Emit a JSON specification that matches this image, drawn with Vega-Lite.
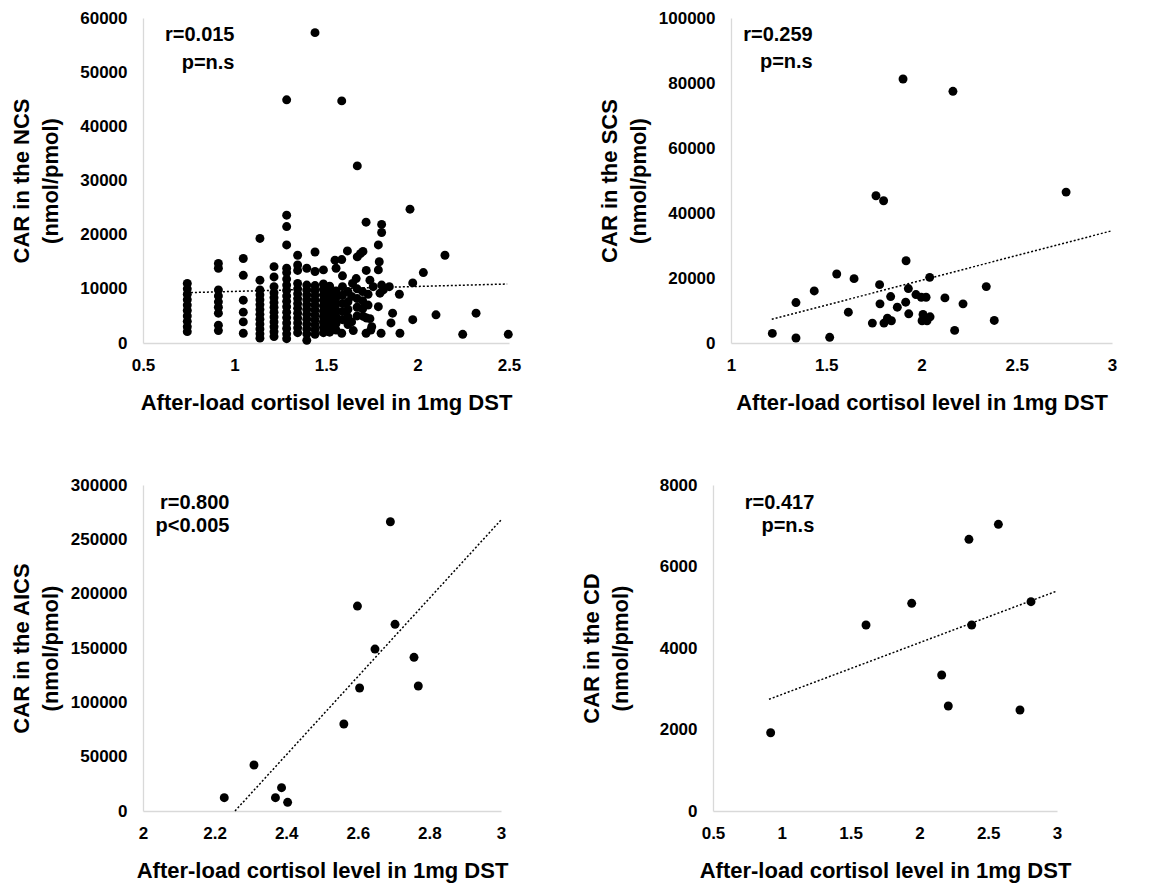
{
  "$schema": "https://vega.github.io/schema/vega-lite/v6.json",
  "padding": {"left": 10, "top": 9, "right": 5, "bottom": 5},
  "background": "white",
  "spacing": 63,
  "datasets": {
    "ncs": [
      {"x":0.742,"y":11000},{"x":0.742,"y":10000},{"x":0.742,"y":9000},{"x":0.742,"y":8000},{"x":0.742,"y":7000},{"x":0.742,"y":6000},{"x":0.742,"y":5000},{"x":0.742,"y":4000},{"x":0.742,"y":3000},{"x":0.742,"y":2100},
      {"x":0.912,"y":14700},{"x":0.912,"y":13800},{"x":0.912,"y":9800},{"x":0.912,"y":8700},{"x":0.912,"y":7600},{"x":0.912,"y":6600},{"x":0.912,"y":5500},{"x":0.912,"y":3300},{"x":0.912,"y":2300},
      {"x":1.048,"y":15600},{"x":1.048,"y":12500},{"x":1.048,"y":7900},{"x":1.048,"y":5700},{"x":1.048,"y":3900},{"x":1.048,"y":1800},
      {"x":1.139,"y":19300},{"x":1.139,"y":11600},{"x":1.139,"y":9800},{"x":1.139,"y":8900},{"x":1.139,"y":8000},{"x":1.139,"y":7100},{"x":1.139,"y":6200},{"x":1.139,"y":5300},{"x":1.139,"y":4400},{"x":1.139,"y":3500},{"x":1.139,"y":2600},{"x":1.139,"y":1700},{"x":1.139,"y":900},
      {"x":1.216,"y":14100},{"x":1.216,"y":12200},{"x":1.216,"y":10400},{"x":1.216,"y":9300},{"x":1.216,"y":8400},{"x":1.216,"y":7500},{"x":1.216,"y":6600},{"x":1.216,"y":5700},{"x":1.216,"y":4800},{"x":1.216,"y":3900},{"x":1.216,"y":3000},{"x":1.216,"y":2100},{"x":1.216,"y":1200},
      {"x":1.285,"y":44900},{"x":1.285,"y":23600},{"x":1.285,"y":21500},{"x":1.285,"y":18100},{"x":1.285,"y":13800},{"x":1.285,"y":13000},{"x":1.285,"y":11800},{"x":1.285,"y":10700},{"x":1.285,"y":9700},{"x":1.285,"y":8700},{"x":1.285,"y":7700},{"x":1.285,"y":6700},{"x":1.285,"y":5700},{"x":1.285,"y":4700},{"x":1.285,"y":3700},{"x":1.285,"y":2700},{"x":1.285,"y":1700},{"x":1.285,"y":800},
      {"x":1.345,"y":16200},{"x":1.345,"y":14400},{"x":1.345,"y":13400},{"x":1.345,"y":11000},{"x":1.345,"y":10000},{"x":1.345,"y":9100},{"x":1.345,"y":8200},{"x":1.345,"y":7300},{"x":1.345,"y":6400},{"x":1.345,"y":5500},{"x":1.345,"y":4600},{"x":1.345,"y":3700},{"x":1.345,"y":2800},{"x":1.345,"y":1900},
      {"x":1.395,"y":13800},{"x":1.395,"y":10700},{"x":1.395,"y":9800},{"x":1.395,"y":8900},{"x":1.395,"y":8000},{"x":1.395,"y":7100},{"x":1.395,"y":6200},{"x":1.395,"y":5300},{"x":1.395,"y":4400},{"x":1.395,"y":3500},{"x":1.395,"y":2600},{"x":1.395,"y":1700},{"x":1.395,"y":500},
      {"x":1.44,"y":57300},{"x":1.44,"y":16800},{"x":1.44,"y":13200},{"x":1.44,"y":10600},{"x":1.44,"y":9700},{"x":1.44,"y":8800},{"x":1.44,"y":7900},{"x":1.44,"y":7000},{"x":1.44,"y":6100},{"x":1.44,"y":5200},{"x":1.44,"y":4300},{"x":1.44,"y":3400},{"x":1.44,"y":2500},{"x":1.44,"y":1600},
      {"x":1.486,"y":13500},{"x":1.486,"y":10900},{"x":1.486,"y":9900},{"x":1.486,"y":8900},{"x":1.486,"y":7900},{"x":1.486,"y":6900},{"x":1.486,"y":5900},{"x":1.486,"y":4900},{"x":1.486,"y":3900},{"x":1.486,"y":2900},{"x":1.486,"y":1900},
      {"x":1.52,"y":10500},{"x":1.52,"y":9200},{"x":1.52,"y":8000},{"x":1.52,"y":6800},{"x":1.52,"y":5600},{"x":1.52,"y":4400},{"x":1.52,"y":3200},{"x":1.52,"y":2700},{"x":1.52,"y":2000},
      {"x":1.555,"y":13800},{"x":1.555,"y":9600},{"x":1.555,"y":8400},{"x":1.555,"y":7200},{"x":1.555,"y":6000},{"x":1.555,"y":4800},{"x":1.555,"y":3600},{"x":1.555,"y":2400},
      {"x":1.549,"y":15300},
      {"x":1.586,"y":44700},{"x":1.586,"y":15400},{"x":1.586,"y":1800},
      {"x":1.59,"y":12400},{"x":1.59,"y":10400},{"x":1.59,"y":8800},{"x":1.59,"y":7300},{"x":1.59,"y":5800},{"x":1.59,"y":4300},
      {"x":1.617,"y":17000},
      {"x":1.62,"y":9500},{"x":1.62,"y":7600},{"x":1.62,"y":6200},{"x":1.62,"y":4800},{"x":1.62,"y":3400},
      {"x":1.64,"y":3900},{"x":1.64,"y":8600},{"x":1.649,"y":2300},{"x":1.645,"y":11000},
      {"x":1.665,"y":11900},{"x":1.671,"y":32700},{"x":1.671,"y":15900},
      {"x":1.67,"y":10000},{"x":1.67,"y":8200},{"x":1.67,"y":6600},{"x":1.67,"y":5000},
      {"x":1.688,"y":16500},{"x":1.702,"y":16900},{"x":1.704,"y":4900},
      {"x":1.7,"y":9500},{"x":1.7,"y":7800},{"x":1.7,"y":6300},
      {"x":1.719,"y":22300},{"x":1.719,"y":1800},{"x":1.72,"y":13400},{"x":1.722,"y":4600},
      {"x":1.73,"y":9000},{"x":1.73,"y":7000},
      {"x":1.74,"y":11600},{"x":1.74,"y":4500},{"x":1.758,"y":10400},{"x":1.75,"y":3000},{"x":1.745,"y":2400},
      {"x":1.786,"y":18100},{"x":1.786,"y":13500},{"x":1.786,"y":6700},{"x":1.791,"y":15000},{"x":1.795,"y":9200},{"x":1.801,"y":1800},
      {"x":1.804,"y":21900},{"x":1.804,"y":20400},{"x":1.804,"y":10700},{"x":1.813,"y":9800},
      {"x":1.846,"y":10400},{"x":1.855,"y":3700},{"x":1.864,"y":5500},{"x":1.901,"y":9000},{"x":1.904,"y":1800},
      {"x":1.959,"y":24700},{"x":1.974,"y":11100},{"x":1.974,"y":4300},{"x":2.032,"y":13000},{"x":2.101,"y":5200},
      {"x":2.15,"y":16200},{"x":2.247,"y":1600},{"x":2.32,"y":5500},{"x":2.496,"y":1600}
    ],
    "ncs_fit": [{"x":0.74,"y":9290},{"x":2.49,"y":10890}],
    "ncs_txt": [{"x":1.0,"y":56860,"t":"r=0.015"},{"x":1.0,"y":51690,"t":"p=n.s"}],
    "scs": [
      {"x":1.217,"y":2960},{"x":1.341,"y":12450},{"x":1.341,"y":1530},{"x":1.437,"y":16020},{"x":1.518,"y":1740},
      {"x":1.555,"y":21220},{"x":1.616,"y":9490},{"x":1.646,"y":19800},{"x":1.742,"y":6120},{"x":1.761,"y":45310},
      {"x":1.78,"y":17960},{"x":1.782,"y":12040},{"x":1.801,"y":43780},{"x":1.803,"y":6120},{"x":1.821,"y":7650},
      {"x":1.838,"y":14290},{"x":1.842,"y":6840},{"x":1.873,"y":11020},{"x":1.903,"y":81220},{"x":1.917,"y":12550},
      {"x":1.919,"y":25310},{"x":1.931,"y":16740},{"x":1.933,"y":8980},{"x":1.971,"y":14900},{"x":1.999,"y":14080},
      {"x":2.003,"y":6840},{"x":2.008,"y":8780},{"x":2.024,"y":14080},{"x":2.029,"y":6840},{"x":2.043,"y":20200},
      {"x":2.045,"y":8060},{"x":2.123,"y":13880},{"x":2.165,"y":77450},{"x":2.174,"y":3880},{"x":2.218,"y":12040},
      {"x":2.34,"y":17350},{"x":2.382,"y":6940},{"x":2.759,"y":46430}
    ],
    "scs_fit": [{"x":1.214,"y":7290},{"x":3.0,"y":34550}],
    "scs_txt": [{"x":1.429,"y":94770,"t":"r=0.259"},{"x":1.429,"y":86550,"t":"p=n.s"}],
    "aics": [
      {"x":2.227,"y":12270},{"x":2.31,"y":42330},{"x":2.37,"y":12270},{"x":2.387,"y":21470},{"x":2.404,"y":8000},
      {"x":2.561,"y":80060},{"x":2.599,"y":188600},{"x":2.605,"y":113200},{"x":2.648,"y":149000},{"x":2.691,"y":266200},
      {"x":2.704,"y":171800},{"x":2.757,"y":141400},{"x":2.769,"y":115000}
    ],
    "aics_fit": [{"x":2.257,"y":0},{"x":3.0,"y":267800}],
    "aics_txt": [{"x":2.2415,"y":283700,"t":"r=0.800"},{"x":2.2415,"y":262500,"t":"p<0.005"}],
    "cd": [
      {"x":0.919,"y":1921},{"x":1.612,"y":4564},{"x":1.944,"y":5097},{"x":2.162,"y":3337},{"x":2.21,"y":2577},
      {"x":2.36,"y":6667},{"x":2.38,"y":4564},{"x":2.574,"y":7035},{"x":2.731,"y":2479},{"x":2.811,"y":5137}
    ],
    "cd_fit": [{"x":0.907,"y":2741},{"x":3.0,"y":5399}],
    "cd_txt": [{"x":1.236,"y":7566,"t":"r=0.417"},{"x":1.236,"y":7001,"t":"p=n.s"}]
  },
  "vconcat": [
    {
      "hconcat": [
        {
          "width": 366, "height": 325,
          "encoding": {
            "x": {"field": "x", "type": "quantitative", "scale": {"domain": [0.5, 2.5], "nice": false, "zero": false},
                  "axis": {"values": [0.5, 1, 1.5, 2, 2.5], "format": "~g", "title": "After-load cortisol level in 1mg DST"}},
            "y": {"field": "y", "type": "quantitative", "scale": {"domain": [0, 60000], "nice": false, "zero": true},
                  "axis": {"values": [0, 10000, 20000, 30000, 40000, 50000, 60000], "format": "d", "title": ["CAR in the NCS", "(nmol/pmol)"]}}
          },
          "layer": [
            {"data": {"name": "ncs_fit"}, "mark": {"type": "line", "color": "black", "strokeDash": [2, 2], "strokeWidth": 1.5}},
            {"data": {"name": "ncs"}, "mark": {"type": "circle", "color": "black", "opacity": 1, "size": 80}},
            {"data": {"name": "ncs_txt"}, "mark": {"type": "text", "align": "right", "baseline": "middle", "fontSize": 20, "fontWeight": "bold", "font": "Liberation Sans", "color": "black"},
             "encoding": {"text": {"field": "t", "type": "nominal"}}}
          ]
        },
        {
          "width": 381, "height": 325,
          "encoding": {
            "x": {"field": "x", "type": "quantitative", "scale": {"domain": [1, 3], "nice": false, "zero": false},
                  "axis": {"values": [1, 1.5, 2, 2.5, 3], "format": "~g", "title": "After-load cortisol level in 1mg DST"}},
            "y": {"field": "y", "type": "quantitative", "scale": {"domain": [0, 100000], "nice": false, "zero": true},
                  "axis": {"values": [0, 20000, 40000, 60000, 80000, 100000], "format": "d", "title": ["CAR in the SCS", "(nmol/pmol)"]}}
          },
          "layer": [
            {"data": {"name": "scs_fit"}, "mark": {"type": "line", "color": "black", "strokeDash": [2, 2], "strokeWidth": 1.5}},
            {"data": {"name": "scs"}, "mark": {"type": "circle", "color": "black", "opacity": 1, "size": 80}},
            {"data": {"name": "scs_txt"}, "mark": {"type": "text", "align": "right", "baseline": "middle", "fontSize": 20, "fontWeight": "bold", "font": "Liberation Sans", "color": "black"},
             "encoding": {"text": {"field": "t", "type": "nominal"}}}
          ]
        }
      ],
      "spacing": 222,
      "bounds": "flush"
    },
    {
      "hconcat": [
        {
          "width": 358, "height": 326,
          "encoding": {
            "x": {"field": "x", "type": "quantitative", "scale": {"domain": [2, 3], "nice": false, "zero": false},
                  "axis": {"values": [2, 2.2, 2.4, 2.6, 2.8, 3], "format": "~g", "title": "After-load cortisol level in 1mg DST"}},
            "y": {"field": "y", "type": "quantitative", "scale": {"domain": [0, 300000], "nice": false, "zero": true},
                  "axis": {"values": [0, 50000, 100000, 150000, 200000, 250000, 300000], "format": "d", "title": ["CAR in the AICS", "(nmol/pmol)"]}}
          },
          "layer": [
            {"data": {"name": "aics_fit"}, "mark": {"type": "line", "color": "black", "strokeDash": [2, 2], "strokeWidth": 1.5}},
            {"data": {"name": "aics"}, "mark": {"type": "circle", "color": "black", "opacity": 1, "size": 80}},
            {"data": {"name": "aics_txt"}, "mark": {"type": "text", "align": "right", "baseline": "middle", "fontSize": 20, "fontWeight": "bold", "font": "Liberation Sans", "color": "black"},
             "encoding": {"text": {"field": "t", "type": "nominal"}}}
          ]
        },
        {
          "width": 344, "height": 326,
          "encoding": {
            "x": {"field": "x", "type": "quantitative", "scale": {"domain": [0.5, 3], "nice": false, "zero": false},
                  "axis": {"values": [0.5, 1, 1.5, 2, 2.5, 3], "format": "~g", "title": "After-load cortisol level in 1mg DST"}},
            "y": {"field": "y", "type": "quantitative", "scale": {"domain": [0, 8000], "nice": false, "zero": true},
                  "axis": {"values": [0, 2000, 4000, 6000, 8000], "format": "d", "title": ["CAR in the CD", "(nmol/pmol)"]}}
          },
          "layer": [
            {"data": {"name": "cd_fit"}, "mark": {"type": "line", "color": "black", "strokeDash": [2, 2], "strokeWidth": 1.5}},
            {"data": {"name": "cd"}, "mark": {"type": "circle", "color": "black", "opacity": 1, "size": 80}},
            {"data": {"name": "cd_txt"}, "mark": {"type": "text", "align": "right", "baseline": "middle", "fontSize": 20, "fontWeight": "bold", "font": "Liberation Sans", "color": "black"},
             "encoding": {"text": {"field": "t", "type": "nominal"}}}
          ]
        }
      ],
      "spacing": 212,
      "bounds": "flush"
    }
  ],
  "config": {
    "view": {"stroke": null},
    "axis": {
      "grid": false, "ticks": false, "tickSize": 0,
      "domainColor": "#d9d9d9", "domainWidth": 1.3,
      "labelFont": "Liberation Sans", "labelFontSize": 17, "labelFontWeight": "bold", "labelColor": "#000000",
      "labelFlush": false, "labelOverlap": false,
      "titleFont": "Liberation Sans", "titleFontSize": 22, "titleFontWeight": "bold", "titleColor": "#000000"
    },
    "axisX": {"labelPadding": 14, "titlePadding": 19},
    "axisY": {"labelPadding": 16, "titleX": -110, "titleLineHeight": 29}
  }
}
